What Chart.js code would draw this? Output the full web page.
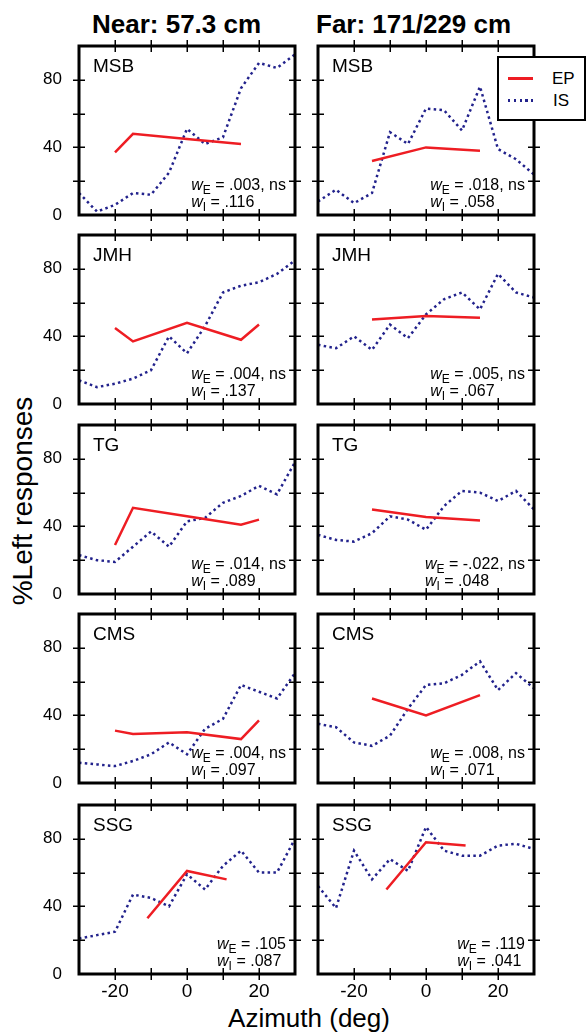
<!DOCTYPE html>
<html>
<head>
<meta charset="utf-8">
<script src="https://cdn.jsdelivr.net/npm/chart.js@4.4.1/dist/chart.umd.min.js"></script>
<style>
html,body{margin:0;padding:0;background:#fff;}
body{width:586px;height:1032px;position:relative;overflow:hidden;font-family:"Liberation Sans",Arial,Helvetica,sans-serif;color:#000;}
canvas.panel{position:absolute;}
.coltitle{position:absolute;font-weight:bold;font-size:26px;line-height:26px;white-space:nowrap;}
#ytitle{position:absolute;left:23px;top:501px;font-size:28px;line-height:28px;white-space:nowrap;transform:translate(-50%,-50%) rotate(-90deg);}
#xtitle{position:absolute;left:309px;top:1005px;font-size:26px;line-height:26px;white-space:nowrap;transform:translateX(-50%);}
#legend{position:absolute;left:497px;top:56px;width:85px;height:61px;border:2px solid #000;background:#fff;}
#legend .sw{position:absolute;left:9px;width:25px;height:2.5px;}
#legend .lt{position:absolute;left:53px;font-size:17px;line-height:17px;}
</style>
</head>
<body>
<div class="coltitle" style="left:92px;top:11px;">Near: 57.3 cm</div>
<div class="coltitle" style="left:316px;top:11px;">Far: 171/229 cm</div>
<div id="ytitle">%Left responses</div>
<div id="xtitle">Azimuth (deg)</div>
<script>
// ---------- data ----------
const subjects = ['MSB', 'JMH', 'TG', 'CMS', 'SSG'];
const columnTitles = ['Near: 57.3 cm', 'Far: 171/229 cm'];
const seriesNames = ['EP', 'IS'];
const xTickValues = [-20, -10, 0, 10, 20];
const xTickLabels = [-20, 0, 20];
const yTickValues = [20, 40, 60, 80];
const yTickLabels = [0, 40, 80];

// IS azimuths (deg)
const azimuthIS = [-30, -25, -20, -15, -10, -5, 0, 5, 10, 15, 20, 25, 30];

// Near: IS (%Left)
const nearIS_MSB = [13, 2, 6, 13, 12, 25, 51, 42, 46, 75, 90, 87, 95];
const nearIS_JMH = [14, 10, 12, 15, 20, 40, 30, 46, 66, 70, 72, 77, 85];
const nearIS_TG  = [23, 20, 19, 28, 37, 28, 43, 45, 54, 58, 64, 59, 78];
const nearIS_CMS = [12, 11, 10, 13, 17, 24, 17, 32, 38, 58, 54, 50, 65];
const nearIS_SSG = [21, 23, 25, 47, 45, 40, 59, 50, 64, 73, 60, 60, 80];

// Near: EP azimuths and values
const nearEPx_MSB = [-20, -15, 0, 15];
const nearEP_MSB  = [37, 48, 45, 42];
const nearEPx_JMH = [-20, -15, 0, 15, 20];
const nearEP_JMH  = [45, 37, 48, 38, 47];
const nearEPx_TG  = [-20, -15, 0, 15, 20];
const nearEP_TG   = [29, 51, 46, 41, 44];
const nearEPx_CMS = [-20, -15, 0, 15, 20];
const nearEP_CMS  = [31, 29, 30, 26, 37];
const nearEPx_SSG = [-11, 0, 11];
const nearEP_SSG  = [33, 61, 56];

// Far: IS (%Left)
const farIS_MSB = [8, 15, 7, 13, 49, 42, 63, 62, 50, 76, 39, 33, 24];
const farIS_JMH = [35, 33, 40, 32, 47, 39, 53, 62, 66, 56, 77, 66, 63];
const farIS_TG  = [35, 32, 31, 36, 46, 44, 38, 52, 61, 60, 55, 61, 50];
const farIS_CMS = [35, 33, 24, 22, 28, 44, 58, 59, 64, 72, 55, 65, 56];
const farIS_SSG = [52, 39, 73, 56, 68, 61, 87, 73, 70, 70, 76, 77, 74];

// Far: EP azimuths and values
const farEPx_MSB = [-15, 0, 15];
const farEP_MSB  = [32, 40, 38];
const farEPx_JMH = [-15, 0, 15];
const farEP_JMH  = [50, 52, 51];
const farEPx_TG  = [-15, 0, 15];
const farEP_TG   = [50, 45.5, 43.5];
const farEPx_CMS = [-15, 0, 15];
const farEP_CMS  = [50, 40, 52];
const farEPx_SSG = [-11, 0, 11];
const farEP_SSG  = [50, 78, 76];

// weights text
const nearWE = ['.003, ns', '.004, ns', '.014, ns', '.004, ns', '.105'];
const nearWI = ['.116', '.137', '.089', '.097', '.087'];
const farWE  = ['.018, ns', '.005, ns', '-.022, ns', '.008, ns', '.119'];
const farWI  = ['.058', '.067', '.048', '.071', '.041'];

// ---------- assembly ----------
const nearIS = [nearIS_MSB, nearIS_JMH, nearIS_TG, nearIS_CMS, nearIS_SSG];
const farIS = [farIS_MSB, farIS_JMH, farIS_TG, farIS_CMS, farIS_SSG];
const nearEPx = [nearEPx_MSB, nearEPx_JMH, nearEPx_TG, nearEPx_CMS, nearEPx_SSG];
const nearEP = [nearEP_MSB, nearEP_JMH, nearEP_TG, nearEP_CMS, nearEP_SSG];
const farEPx = [farEPx_MSB, farEPx_JMH, farEPx_TG, farEPx_CMS, farEPx_SSG];
const farEP = [farEP_MSB, farEP_JMH, farEP_TG, farEP_CMS, farEP_SSG];

const FONT = '"Liberation Sans", Arial, Helvetica, sans-serif';
const EP_COLOR = '#ee1d23';
const IS_COLOR = '#22228c';

const colLeft = [79, 318];
const frameW = 216;
const rowTop = [46, 235, 425, 614, 805];
const frameH = 169;

const pts = (xs, ys) => xs.map((x, i) => ({x: x, y: ys[i]}));

const framePlugin = {
  id: 'frame',
  afterDatasetsDraw(chart, args, opts) {
    const ctx = chart.ctx, a = chart.chartArea, xs = chart.scales.x, ys = chart.scales.y;
    ctx.save();
    ctx.strokeStyle = '#000';
    ctx.lineWidth = 1.5;
    ctx.beginPath();
    xTickValues.forEach(v => {
      const p = Math.round(xs.getPixelForValue(v)) + 0.25;
      ctx.moveTo(p, a.top - 6); ctx.lineTo(p, a.top + 6);
      ctx.moveTo(p, a.bottom - 6); ctx.lineTo(p, a.bottom + 6);
    });
    yTickValues.forEach(v => {
      const p = Math.round(ys.getPixelForValue(v)) + 0.25;
      ctx.moveTo(a.left - 6, p); ctx.lineTo(a.left + 6, p);
      ctx.moveTo(a.right - 6, p); ctx.lineTo(a.right + 6, p);
    });
    ctx.stroke();
    ctx.lineWidth = 3;
    ctx.strokeRect(a.left, a.top, a.right - a.left, a.bottom - a.top);

    ctx.fillStyle = '#000';
    ctx.textAlign = 'left';
    ctx.textBaseline = 'alphabetic';
    ctx.font = '19px ' + FONT;
    ctx.fillText(opts.name, a.left + 14, a.top + 26);

    // weight annotations
    const big = '16px ' + FONT, ital = 'italic 16px ' + FONT, sub = '12px ' + FONT;
    const measure = (f, t) => { ctx.font = f; return ctx.measureText(t).width; };
    const rest1 = ' = ' + opts.wE, rest2 = ' = ' + opts.wI;
    const w1 = measure(ital, 'w') + measure(sub, 'E') + measure(big, rest1);
    const x0 = a.right - 9 - w1;
    const drawLine = (subTxt, rest, yb) => {
      let x = x0;
      ctx.font = ital; ctx.fillText('w', x, yb); x += ctx.measureText('w').width;
      ctx.font = sub; ctx.fillText(subTxt, x, yb + 4); x += ctx.measureText(subTxt).width;
      ctx.font = big; ctx.fillText(rest, x, yb);
    };
    drawLine('E', rest1, a.bottom - 25);
    drawLine('I', rest2, a.bottom - 8);
    ctx.restore();
  }
};

function makePanel(col, row) {
  const isBottom = row === 4;
  const padTop = 12;
  const xAxisH = isBottom ? 40 : 12;
  const canvasLeft = col === 0 ? 15 : 305;
  const canvasRight = col === 0 ? 305 : 545;
  const yAxisW = colLeft[col] - canvasLeft;
  const padRight = canvasRight - (colLeft[col] + frameW);
  const cv = document.createElement('canvas');
  cv.className = 'panel';
  cv.width = canvasRight - canvasLeft;
  cv.height = padTop + frameH + xAxisH;
  cv.style.left = canvasLeft + 'px';
  cv.style.top = (rowTop[row] - padTop) + 'px';
  cv.style.width = cv.width + 'px';
  cv.style.height = cv.height + 'px';
  document.body.appendChild(cv);

  const epx = col === 0 ? nearEPx[row] : farEPx[row];
  const epy = col === 0 ? nearEP[row] : farEP[row];
  const isy = col === 0 ? nearIS[row] : farIS[row];

  new Chart(cv.getContext('2d'), {
    type: 'line',
    data: {
      datasets: [
        { label: seriesNames[0], data: pts(epx, epy), borderColor: EP_COLOR, borderWidth: 2.5,
          pointRadius: 0, tension: 0, fill: false },
        { label: seriesNames[1], data: pts(azimuthIS, isy), borderColor: IS_COLOR, borderWidth: 2.5,
          borderDash: [2.5, 3.3], borderCapStyle: 'butt', pointRadius: 0, tension: 0, fill: false }
      ]
    },
    options: {
      responsive: false,
      animation: false,
      devicePixelRatio: 1,
      layout: { padding: { top: padTop, right: padRight, left: 0, bottom: 0 } },
      plugins: {
        legend: { display: false },
        tooltip: { enabled: false },
        frame: { name: subjects[row],
                 wE: col === 0 ? nearWE[row] : farWE[row],
                 wI: col === 0 ? nearWI[row] : farWI[row] }
      },
      scales: {
        x: {
          type: 'linear', min: -30, max: 30, position: 'bottom',
          afterFit: s => { s.height = xAxisH; s.paddingLeft = 0; s.paddingRight = 0; },
          grid: { display: false, drawTicks: false },
          border: { display: false },
          ticks: {
            display: isBottom, stepSize: 10, autoSkip: false, maxRotation: 0, padding: 6,
            color: '#000', font: { family: FONT, size: 19 },
            callback: v => xTickLabels.includes(v) ? String(v) : ''
          }
        },
        y: {
          type: 'linear', min: 0, max: 100, position: 'left',
          afterFit: s => { s.width = yAxisW; s.paddingTop = 0; s.paddingBottom = 0; },
          grid: { display: false, drawTicks: false },
          border: { display: false },
          ticks: {
            display: col === 0, stepSize: 20, autoSkip: false, padding: 17,
            color: '#000', font: { family: FONT, size: 17 },
            callback: v => yTickLabels.includes(v) ? String(v) : ''
          }
        }
      }
    },
    plugins: [framePlugin]
  });
}

for (let r = 0; r < 5; r++) { makePanel(0, r); makePanel(1, r); }

// legend (HTML overlay)
const lg = document.createElement('div');
lg.id = 'legend';
lg.innerHTML =
  '<div class="sw" style="top:19px;background:' + EP_COLOR + ';"></div>' +
  '<div class="lt" style="top:12px;">' + seriesNames[0] + '</div>' +
  '<div class="sw" style="top:41px;background:repeating-linear-gradient(to right,' + IS_COLOR + ' 0 2.5px,transparent 2.5px 5.8px);"></div>' +
  '<div class="lt" style="top:34px;left:54px;">' + seriesNames[1] + '</div>';
document.body.appendChild(lg);
</script>
</body>
</html>
